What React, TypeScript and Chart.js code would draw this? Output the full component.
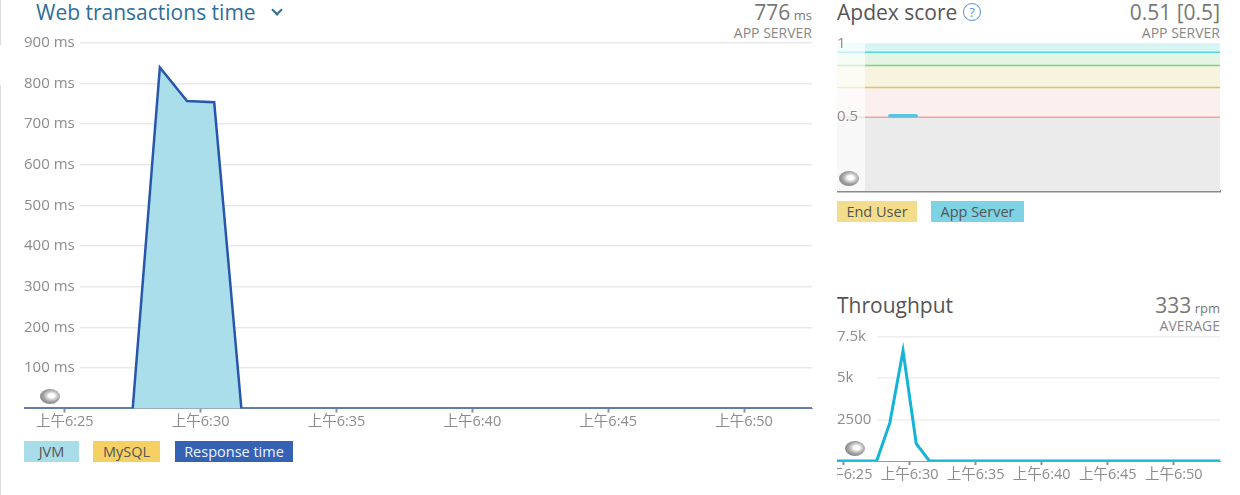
import React, { useEffect, useRef } from "react";
import { Chart, registerables } from "chart.js";

Chart.register(...registerables);

const FONT = "'Open Sans', 'Noto Sans CJK SC', sans-serif";

// ---------- Web transactions time (minutes after 6:00, one bucket per minute) ----------
const wtMinutes = [23.5, 24.5, 25.5, 26.5, 27.5, 28.5, 29.5, 30.5, 31.5, 32.5, 33.5, 34.5, 35.5, 36.5, 37.5, 38.5, 39.5, 40.5, 41.5, 42.5, 43.5, 44.5, 45.5, 46.5, 47.5, 48.5, 49.5, 50.5, 51.5, 52.5];
const jvmMs = [0, 0, 0, 0, 0, 840, 757, 754, 0, 0, 0, 0, 0, 0, 0, 0, 0, 0, 0, 0, 0, 0, 0, 0, 0, 0, 0, 0, 0, 0];
const responseMs = [0, 0, 0, 0, 0, 840, 757, 754, 0, 0, 0, 0, 0, 0, 0, 0, 0, 0, 0, 0, 0, 0, 0, 0, 0, 0, 0, 0, 0, 0];
const wtYTicks = [100, 200, 300, 400, 500, 600, 700, 800, 900];

// ---------- Shared time ticks ----------
const timeTickMinutes = [25, 30, 35, 40, 45, 50];
const timeTickLabels = ["上午6:25", "上午6:30", "上午6:35", "上午6:40", "上午6:45", "上午6:50"];

// ---------- Apdex ----------
const apdexMinutes = [28.5, 29.5, 30.5];
const apdexAppServer = [0.51, 0.51, 0.51];
const apdexThresholds = [1, 0.94, 0.85, 0.7, 0.5];
const apdexBandColors = ["#d7f5f5", "#e5f5e5", "#f6f4de", "#fcf0ee", "#ebebeb"];
const apdexLineColors = ["#d7f5f5", "#52d6d6", "#80d480", "#d8c46c", "#eea4a4"];
const apdexTickValues = [0.5, 1];
const apdexTickLabels = ["0.5", "1"];

// ---------- Throughput ----------
const tpMinutes = [24.5, 25.5, 26.5, 27.5, 28.5, 29.5, 30.5, 31.5, 32.5, 33.5, 34.5, 35.5, 36.5, 37.5, 38.5, 39.5, 40.5, 41.5, 42.5, 43.5, 44.5, 45.5, 46.5, 47.5, 48.5, 49.5, 50.5, 51.5, 52.5, 53.5];
const throughputRpm = [0, 0, 0, 0, 2300, 6650, 1050, 0, 0, 0, 0, 0, 0, 0, 0, 0, 0, 0, 0, 0, 0, 0, 0, 0, 0, 0, 0, 0, 0, 0];
const tpTickValues = [2500, 5000, 7500];
const tpTickLabels = ["2500", "5k", "7.5k"];

const xTickFont = { family: FONT, size: 14.5 };
const yTickFont = { family: FONT, size: 15 };
const tickColor = "#8c8c8c";

function maskPlugin(width: number, hook: "beforeDatasetsDraw" | "afterDatasetsDraw", color: string, bottomInset: number) {
  return {
    id: "leftMask",
    [hook]: (chart: any) => {
      const { ctx, chartArea: a } = chart;
      ctx.save();
      ctx.fillStyle = color;
      ctx.fillRect(a.left, a.top - 2, width, a.bottom - a.top + 2 - bottomInset);
      ctx.restore();
    },
  };
}

function timeXScale(min: number, max: number, height: number, showLabels: boolean, borderColor: string, borderWidth: number) {
  return {
    type: "linear",
    min,
    max,
    afterBuildTicks: (s: any) => {
      s.ticks = timeTickMinutes.map((v) => ({ value: v }));
    },
    afterFit: (s: any) => {
      s.height = height;
      s.paddingLeft = 0;
      s.paddingRight = 0;
    },
    ticks: {
      display: showLabels,
      autoSkip: false,
      maxRotation: 0,
      padding: 1,
      font: xTickFont,
      color: tickColor,
      callback: (_v: any, i: number) => timeTickLabels[i],
    },
    grid: { display: showLabels, drawOnChartArea: false, tickLength: 4, color: "#8f8f8f", tickWidth: 2 },
    border: { display: true, color: borderColor, width: borderWidth },
  };
}

function mirroredY(min: number, max: number, values: number[], labels: string[], gridColor: string | null) {
  return {
    min,
    max,
    afterBuildTicks: (s: any) => {
      s.ticks = values.map((v) => ({ value: v }));
    },
    afterFit: (s: any) => {
      s.width = 0;
      s.paddingTop = 0;
      s.paddingBottom = 0;
    },
    ticks: {
      mirror: true,
      padding: 0,
      z: 1,
      font: yTickFont,
      color: tickColor,
      callback: (_v: any, i: number) => labels[i],
    },
    grid: gridColor ? { color: gridColor, lineWidth: 1.5, drawTicks: false } : { display: false },
    border: { display: false },
  };
}

const baseOptions = (padTop: number) => ({
  animation: false,
  responsive: true,
  maintainAspectRatio: false,
  events: [],
  layout: { padding: { top: padTop, right: 2, left: 0, bottom: 0 } },
});

function makeWebTx() {
  const pts = (arr: number[]) => wtMinutes.map((x, i) => ({ x, y: arr[i] }));
  return {
    type: "line",
    data: {
      datasets: [
        { label: "Response time", data: pts(responseMs), borderColor: "#2856ad", borderWidth: 2.5, pointRadius: 0, fill: false, tension: 0, borderJoinStyle: "miter" },
        { label: "JVM", data: pts(jvmMs), borderWidth: 0, borderColor: "transparent", backgroundColor: "#aadeea", pointRadius: 0, fill: "origin", tension: 0 },
      ],
    },
    options: {
      ...baseOptions(13),
      plugins: { legend: { display: false }, tooltip: { enabled: false } },
      scales: {
        x: timeXScale(23.5, 52.5, 27.5, true, "#9aa3b5", 1),
        y: mirroredY(0, 900, wtYTicks, wtYTicks.map((v) => `${v} ms`), "#e9e9e9"),
      },
    },
    plugins: [maskPlugin(56, "beforeDatasetsDraw", "#ffffff", 2)],
  };
}

function makeApdex() {
  const x0 = 24.5;
  const x1 = 53.5;
  const bands = apdexThresholds.map((t, i) => ({
    label: `threshold ${t}`,
    data: [{ x: x0, y: t }, { x: x1, y: t }],
    borderColor: apdexLineColors[i],
    borderWidth: 1.5,
    backgroundColor: apdexBandColors[i],
    pointRadius: 0,
    fill: i < apdexThresholds.length - 1 ? "+1" : "origin",
  }));
  return {
    type: "line",
    data: {
      datasets: [
        {
          label: "App Server",
          data: apdexMinutes.map((x, i) => ({ x, y: apdexAppServer[i] })),
          borderColor: "#5cc4e0",
          borderWidth: 3.5,
          borderCapStyle: "round",
          pointRadius: 0,
          fill: false,
        },
        ...bands,
      ],
    },
    options: {
      ...baseOptions(9.3),
      plugins: { legend: { display: false }, tooltip: { enabled: false }, filler: { drawTime: "beforeDatasetsDraw" } },
      scales: {
        x: timeXScale(x0, x1, 2, false, "#8a8a8a", 2.5),
        y: mirroredY(0, 1, apdexTickValues, apdexTickLabels, null),
      },
    },
    plugins: [maskPlugin(28, "afterDatasetsDraw", "rgba(255,255,255,0.66)", 0)],
  };
}

function makeThroughput() {
  return {
    type: "line",
    data: {
      datasets: [
        {
          label: "Throughput",
          data: tpMinutes.map((x, i) => ({ x, y: throughputRpm[i] })),
          borderColor: "#14b4d6",
          borderWidth: 3,
          pointRadius: 0,
          fill: false,
          tension: 0,
        },
      ],
    },
    options: {
      ...baseOptions(10.7),
      plugins: { legend: { display: false }, tooltip: { enabled: false } },
      scales: {
        x: timeXScale(24.5, 53.5, 31, true, "#9a9a9a", 1),
        y: mirroredY(0, 7500, tpTickValues, tpTickLabels, "#eeeeee"),
      },
    },
    plugins: [maskPlugin(40, "beforeDatasetsDraw", "#ffffff", 2)],
  };
}

function ChartBox({ make, left, top, width, height }: { make: () => any; left: number; top: number; width: number; height: number }) {
  const ref = useRef<HTMLCanvasElement>(null);
  useEffect(() => {
    const chart = new Chart(ref.current as HTMLCanvasElement, make());
    return () => chart.destroy();
  }, []);
  return (
    <div style={{ position: "absolute", left, top, width, height }}>
      <canvas ref={ref} />
    </div>
  );
}

function EyeIcon({ left, top }: { left: number; top: number }) {
  return (
    <div
      style={{
        position: "absolute",
        left,
        top,
        width: 20,
        height: 15,
        borderRadius: "50%",
        background: "radial-gradient(ellipse at 58% 45%, #ffffff 0 18%, #dcdcdc 28%, #a0a0a0 52%, #7e7e7e 80%, #8c8c8c 100%)",
      }}
    />
  );
}

function LegendBox({ left, top, width, bg, color, text }: { left: number; top: number; width: number; bg: string; color: string; text: string }) {
  return (
    <div
      style={{
        position: "absolute",
        left,
        top,
        width,
        height: 21,
        background: bg,
        color,
        fontSize: 14.5,
        lineHeight: "21px",
        textAlign: "center",
        whiteSpace: "nowrap",
      }}
    >
      {text}
    </div>
  );
}

const abs = (s: React.CSSProperties): React.CSSProperties => ({ position: "absolute", whiteSpace: "nowrap", ...s });

export default function App() {
  useEffect(() => {
    document.body.style.margin = "0";
  }, []);
  return (
    <div style={{ position: "relative", width: 1240, height: 495, overflow: "hidden", background: "#fff", fontFamily: FONT }}>
      {/* left border */}
      <div style={abs({ left: 0, top: 0, width: 1, height: 45, background: "#dcdcdc" })} />
      <div style={abs({ left: 0, top: 85, width: 1, height: 410, background: "#dcdcdc" })} />

      {/* Web transactions time header */}
      <div style={abs({ left: 36, top: 0, fontSize: 21, lineHeight: "24px", color: "#2f6d9c" })}>Web transactions time</div>
      <div style={abs({ left: 273, top: 6, width: 6, height: 6, borderRight: "2px solid #2f6d9c", borderBottom: "2px solid #2f6d9c", transform: "rotate(45deg)" })} />
      <div style={abs({ right: 1240 - 812, top: 0, fontSize: 21, lineHeight: "24px", color: "#777" })}>
        776<span style={{ fontSize: 13 }}> ms</span>
      </div>
      <div style={abs({ right: 1240 - 812, top: 25, fontSize: 14, lineHeight: "16px", color: "#888" })}>APP SERVER</div>

      <ChartBox make={makeWebTx} left={24} top={30} width={790} height={406} />
      <EyeIcon left={40} top={389} />

      <LegendBox left={24} top={441} width={55} bg="#a9dde9" color="#555" text="JVM" />
      <LegendBox left={93} top={441} width={67} bg="#f5d163" color="#555" text="MySQL" />
      <LegendBox left={175} top={441} width={118} bg="#3562b5" color="#eef2fb" text="Response time" />

      {/* Apdex header */}
      <div style={abs({ left: 837, top: 0, fontSize: 21, lineHeight: "24px", color: "#555" })}>Apdex score</div>
      <div
        style={abs({
          left: 963,
          top: 3,
          width: 16,
          height: 16,
          borderRadius: "50%",
          border: "1.5px solid #5d8fd8",
          color: "#5d8fd8",
          fontSize: 13,
          lineHeight: "16px",
          textAlign: "center",
        })}
      >
        ?
      </div>
      <div style={abs({ right: 20, top: 0, fontSize: 21, lineHeight: "24px", color: "#777" })}>0.51 [0.5]</div>
      <div style={abs({ right: 20, top: 25, fontSize: 14, lineHeight: "16px", color: "#888" })}>APP SERVER</div>

      <ChartBox make={makeApdex} left={837} top={34} width={385} height={159} />
      <EyeIcon left={839} top={171} />

      <LegendBox left={837} top={201} width={80} bg="#f3dd8b" color="#555" text="End User" />
      <LegendBox left={931} top={201} width={93} bg="#7dd2e3" color="#555" text="App Server" />

      {/* Throughput header */}
      <div style={abs({ left: 837, top: 293, fontSize: 21, lineHeight: "24px", color: "#555" })}>Throughput</div>
      <div style={abs({ right: 20, top: 293, fontSize: 21, lineHeight: "24px", color: "#777" })}>
        333<span style={{ fontSize: 13 }}> rpm</span>
      </div>
      <div style={abs({ right: 20, top: 318, fontSize: 14, lineHeight: "16px", color: "#888" })}>AVERAGE</div>

      <ChartBox make={makeThroughput} left={837} top={326} width={385} height={166} />
      <EyeIcon left={845} top={441} />
    </div>
  );
}
